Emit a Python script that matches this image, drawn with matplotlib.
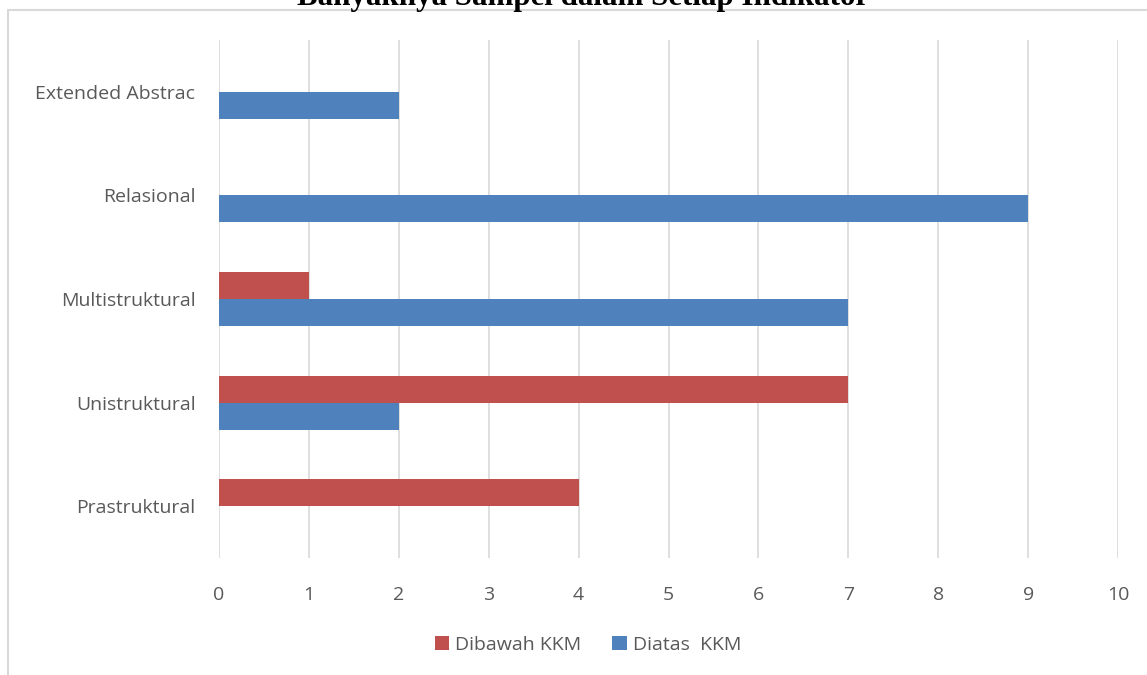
import matplotlib.pyplot as plt
import numpy as np
from matplotlib.patches import Rectangle

categories = ["Prastruktural", "Unistruktural", "Multistruktural", "Relasional", "Extended Abstrac"]
dibawah_kkm = [4, 7, 1, 0, 0]
diatas_kkm = [0, 2, 7, 9, 2]
x_ticks = list(range(0, 11))

RED = "#C0504D"
BLUE = "#4F81BD"
GRID = "#D9D9D9"
TEXT = "#595959"

plt.rcParams["font.family"] = ["Open Sans", "DejaVu Sans"]

W, H = 1147, 675
fig = plt.figure(figsize=(W / 100, H / 100), dpi=100)

# outer chart frame, partly cut off at the right and bottom
fig.patches.append(Rectangle((8 / W, -0.05), 1.2, 1.05 - 10 / H, transform=fig.transFigure,
                             fill=False, edgecolor=GRID, linewidth=1.5))

fig.text(583 / W, 1 - 5 / H, "Banyaknya Sampel dalam Setiap Indikator", ha="center", va="baseline",
         fontsize=22.3, fontweight="bold", family="Liberation Serif", color="black")

ax = fig.add_axes([219 / W, 1 - 558 / H, (1118 - 219) / W, (558 - 40) / H])
y = np.arange(len(categories))
h = 0.26
ax.barh(y + h / 2, dibawah_kkm, height=h, color=RED, label="Dibawah KKM", zorder=3)
ax.barh(y - h / 2, diatas_kkm, height=h, color=BLUE, label="Diatas  KKM", zorder=3)

ax.set_xlim(0, 10)
ax.set_ylim(-0.5, len(categories) - 0.5)
ax.set_xticks(x_ticks)
ax.set_yticks(y)
ax.set_yticklabels(categories)
ax.grid(axis="x", color=GRID, linewidth=1.2, zorder=0)
ax.tick_params(length=0, labelsize=14, labelcolor=TEXT)
ax.tick_params(axis="x", pad=20)
ax.tick_params(axis="y", pad=17)
for s in ax.spines.values():
    s.set_visible(False)

ax.legend(loc="center", bbox_to_anchor=(588 / W, 1 - 645 / H), bbox_transform=fig.transFigure,
          ncol=2, frameon=False, fontsize=14, labelcolor=TEXT, handlelength=0.75, handleheight=0.75,
          handletextpad=0.3, columnspacing=1.6)

fig.savefig("out.png", dpi=100)
